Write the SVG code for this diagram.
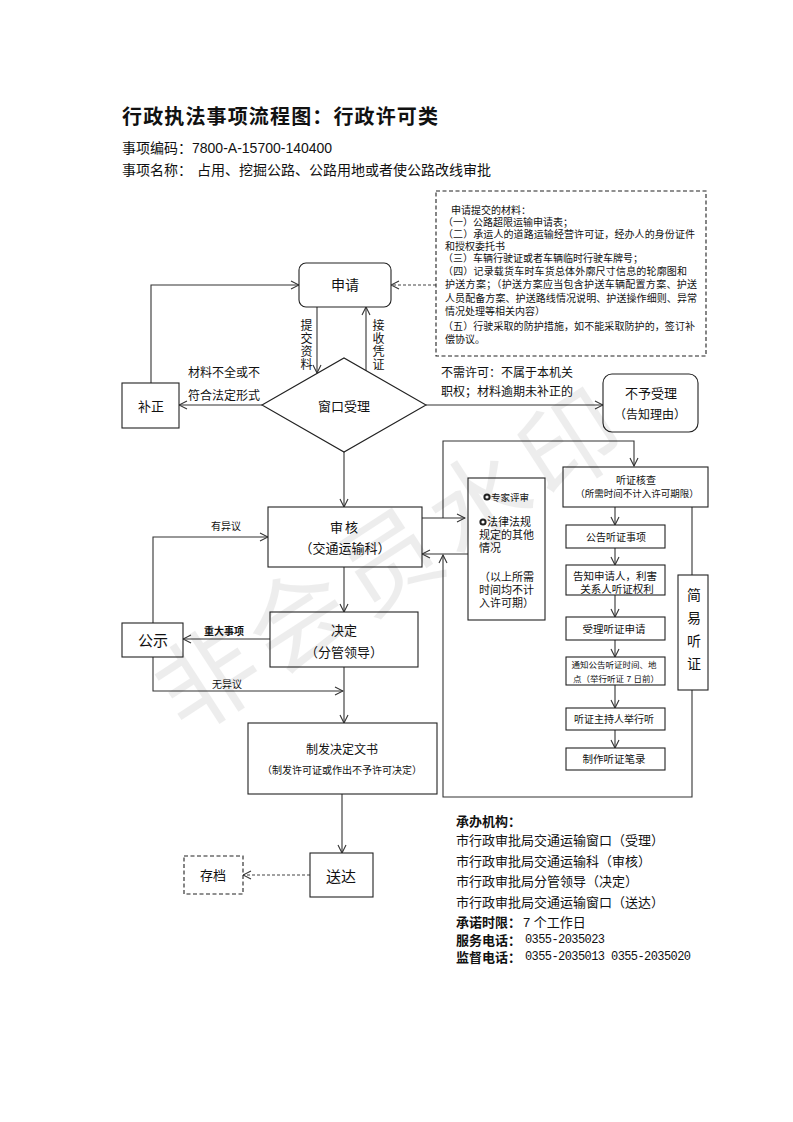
<svg xmlns="http://www.w3.org/2000/svg" width="793" height="1122" viewBox="0 0 793 1122">
<style>
text{font-family:"Liberation Sans","Noto Sans CJK SC",sans-serif;fill:#111;}
.c{text-anchor:middle;dominant-baseline:central;}
.l{dominant-baseline:central;}
.v{writing-mode:vertical-rl;}
.box{fill:#fff;stroke:#222;stroke-width:1.1;}
.dash{fill:#fff;stroke:#222;stroke-width:1.1;stroke-dasharray:4 2.5;}
.ln{fill:none;stroke:#333;stroke-width:1.1;marker-end:url(#ar);}
.dl{fill:none;stroke:#444;stroke-width:1.1;stroke-dasharray:3 2;marker-end:url(#ar);}
.mono{font-family:"Liberation Mono",monospace;}
</style>
<defs>
<marker id="ar" viewBox="0 0 10 10" refX="9" refY="5" markerWidth="10" markerHeight="10" markerUnits="userSpaceOnUse" orient="auto">
<path d="M1,1 L9,5 L1,9" fill="none" stroke="#333" stroke-width="1.1"/>
</marker>
</defs>
<rect width="793" height="1122" fill="#fff"/>

<g id="header">
<text x="122" y="117" class="l" font-size="20" font-weight="bold" textLength="316">行政执法事项流程图：行政许可类</text>
<text x="122" y="148" class="l" font-size="14">事项编码：7800-A-15700-140400</text>
<text x="122" y="170" class="l" font-size="14">事项名称：</text>
<text x="197" y="170" class="l" font-size="14">占用、挖掘公路、公路用地或者使公路改线审批</text>
</g>

<g id="connectors">
<path class="ln" d="M151,383 V285 H299"/>
<path class="ln" d="M317,307 V373"/>
<path class="ln" d="M366,371 V307"/>
<path class="ln" d="M262,405 H179"/>
<path class="ln" d="M426,405 H603"/>
<path class="ln" d="M344,452 V507"/>
<path class="dl" d="M436,285 H391"/>
<path class="ln" d="M344,567 V612"/>
<path class="ln" d="M270,639 H183"/>
<path class="ln" d="M153,623 V537 H268"/>
<path class="ln" d="M153,657 V691 H343"/>
<path class="ln" d="M344,667 V723"/>
<path class="ln" d="M342,794 V853"/>
<path class="dl" d="M310,875 H243"/>
<path class="ln" d="M422,518 H465"/>
<path class="ln" d="M443,518 V441 H634 V466"/>
<path class="ln" d="M468,554 H422"/>
<path class="ln" d="M692,507 V797 H443 V555"/>
<path class="ln" d="M615,507 V525"/>
<path class="ln" d="M615,548 V565"/>
<path class="ln" d="M615,595 V617"/>
<path class="ln" d="M615,640 V657"/>
<path class="ln" d="M615,685 V708"/>
<path class="ln" d="M615,730 V748"/>
</g>

<g id="labels">
<text x="305" y="319" class="v" font-size="12" letter-spacing="1">提交资料</text>
<text x="377" y="319" class="v" font-size="12" letter-spacing="1">接收凭证</text>
<text class="l" font-size="12"><tspan x="188" y="373">材料不全或不</tspan><tspan x="188" y="396">符合法定形式</tspan></text>
<text class="l" font-size="12"><tspan x="441" y="373">不需许可：不属于本机关</tspan><tspan x="441" y="392">职权；材料逾期未补正的</tspan></text>
<text x="226" y="526" class="c" font-size="10">有异议</text>
<text x="224" y="631" class="c" font-size="10" font-weight="bold">重大事项</text>
<text x="227" y="684" class="c" font-size="10">无异议</text>
</g>

<g id="note">
<rect class="dash" x="436" y="191" width="270" height="165"/>
<text class="l" font-size="10">
<tspan x="451" y="210">申请提交的材料：</tspan>
<tspan x="443" y="222">（一）公路超限运输申请表；</tspan>
<tspan x="443" y="234" textLength="252">（二）承运人的道路运输经营许可证，经办人的身份证件</tspan>
<tspan x="445" y="246">和授权委托书</tspan>
<tspan x="443" y="258">（三）车辆行驶证或者车辆临时行驶车牌号；</tspan>
<tspan x="443" y="271" textLength="244">（四）记录载货车时车货总体外廓尺寸信息的轮廓图和</tspan>
<tspan x="445" y="284" textLength="252">护送方案；（护送方案应当包含护送车辆配置方案、护送</tspan>
<tspan x="445" y="298" textLength="252">人员配备方案、护送路线情况说明、护送操作细则、异常</tspan>
<tspan x="445" y="311">情况处理等相关内容）</tspan>
<tspan x="443" y="326" textLength="252">（五）行驶采取的防护措施，如不能采取防护的，签订补</tspan>
<tspan x="445" y="339">偿协议。</tspan>
</text>
</g>

<g id="apply">
<rect class="box" x="299" y="263" width="92" height="44" rx="7"/>
<text x="345" y="285" class="c" font-size="14">申请</text>
</g>
<g id="window">
<polygon class="box" points="262,405 344,358 426,405 344,452"/>
<text x="344" y="406" class="c" font-size="13">窗口受理</text>
</g>
<g id="correct">
<rect class="box" x="122" y="383" width="57" height="45"/>
<text x="151" y="406" class="c" font-size="13">补正</text>
</g>
<g id="reject">
<rect class="box" x="603" y="374" width="95" height="58" rx="9"/>
<text class="c"><tspan x="651" y="393" font-size="13">不予受理</tspan><tspan x="650" y="415" font-size="12">（告知理由）</tspan></text>
</g>
<g id="review">
<rect class="box" x="268" y="507" width="154" height="60"/>
<text class="c" font-size="13"><tspan x="345" y="527" letter-spacing="2">审核</tspan><tspan x="345" y="548">（交通运输科）</tspan></text>
</g>
<g id="decide">
<rect class="box" x="270" y="612" width="148" height="55"/>
<text class="c" font-size="13"><tspan x="344" y="630">决定</tspan><tspan x="344" y="652">（分管领导）</tspan></text>
</g>
<g id="publicity">
<rect class="box" x="122" y="623" width="61" height="34"/>
<text x="153" y="640" class="c" font-size="15">公示</text>
</g>
<g id="document">
<rect class="box" x="248" y="723" width="189" height="71"/>
<text class="c"><tspan x="342" y="750" font-size="12">制发决定文书</tspan><tspan x="342" y="770" font-size="10">（制发许可证或作出不予许可决定）</tspan></text>
</g>
<g id="deliver">
<rect class="box" x="310" y="853" width="63" height="44"/>
<text x="341" y="876" class="c" font-size="15">送达</text>
</g>
<g id="archive">
<rect class="dash" x="184" y="856" width="59" height="38"/>
<text x="213" y="875" class="c" font-size="13">存档</text>
</g>
<g id="expert">
<rect class="box" x="468" y="478" width="77" height="142"/>
<circle cx="487" cy="497" r="2.6" fill="none" stroke="#222" stroke-width="2"/>
<circle cx="483" cy="522" r="2.6" fill="none" stroke="#222" stroke-width="2"/>
<text class="l" font-size="11">
<tspan x="491" y="497" font-size="9.5">专家评审</tspan>
<tspan x="487" y="522">法律法规</tspan>
<tspan x="479" y="535">规定的其他</tspan>
<tspan x="479" y="548">情况</tspan>
<tspan x="479" y="577">（以上所需</tspan>
<tspan x="479" y="590">时间均不计</tspan>
<tspan x="479" y="603">入许可期）</tspan>
</text>
</g>
<g id="hearing-check">
<rect class="box" x="563" y="467" width="145" height="40"/>
<text class="c"><tspan x="636" y="480" font-size="10">听证核查</tspan><tspan x="637" y="493" font-size="9.5">（所需时间不计入许可期限）</tspan></text>
</g>
<g id="h1">
<rect class="box" x="566" y="525" width="99" height="23"/>
<text x="616" y="537" class="c" font-size="10">公告听证事项</text>
</g>
<g id="h2">
<rect class="box" x="566" y="565" width="99" height="30"/>
<text class="c" font-size="10.5"><tspan x="615" y="576">告知申请人，利害</tspan><tspan x="617" y="589">关系人听证权利</tspan></text>
</g>
<g id="h3">
<rect class="box" x="566" y="617" width="99" height="23"/>
<text x="614" y="629" class="c" font-size="10.5">受理听证申请</text>
</g>
<g id="h4">
<rect class="box" x="566" y="657" width="99" height="28"/>
<text class="c" font-size="8.5"><tspan x="614" y="665">通知公告听证时间、地</tspan><tspan x="616" y="679">点（举行听证 7 日前）</tspan></text>
</g>
<g id="h5">
<rect class="box" x="566" y="708" width="99" height="22"/>
<text x="614" y="719" class="c" font-size="10">听证主持人举行听</text>
</g>
<g id="h6">
<rect class="box" x="566" y="748" width="99" height="22"/>
<text x="614" y="759" class="c" font-size="10.5">制作听证笔录</text>
</g>
<g id="simple-hearing">
<rect class="box" x="678" y="575" width="30" height="115"/>
<text x="693" y="588" class="v" font-size="14" letter-spacing="9">简易听证</text>
</g>

<g id="info">
<text class="l" font-size="13">
<tspan x="456" y="821" font-weight="bold">承办机构：</tspan>
<tspan x="456" y="840">市行政审批局交通运输窗口（受理）</tspan>
<tspan x="456" y="861">市行政审批局交通运输科（审核）</tspan>
<tspan x="456" y="881">市行政审批局分管领导（决定）</tspan>
<tspan x="456" y="902">市行政审批局交通运输窗口（送达）</tspan>
<tspan x="456" y="922" font-weight="bold">承诺时限：</tspan><tspan x="523" y="922">7 个工作日</tspan>
<tspan x="456" y="940" font-weight="bold">服务电话：</tspan><tspan x="525" y="940" class="mono" font-size="12" textLength="80">0355-2035023</tspan>
<tspan x="456" y="957" font-weight="bold">监督电话：</tspan><tspan x="525" y="957" class="mono" font-size="12" textLength="166">0355-2035013 0355-2035020</tspan>
</text>
</g>

<g id="watermark" opacity="0.07">
<text class="c" font-size="100" letter-spacing="8" fill="#000" transform="translate(393,560) rotate(-33)">非会员水印</text>
</g>
</svg>
